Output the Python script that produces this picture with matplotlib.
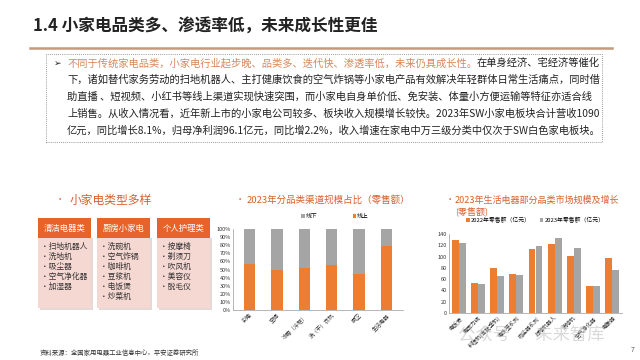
import matplotlib
matplotlib.use('Agg')
import matplotlib.pyplot as plt
import numpy as np
from matplotlib.patches import Rectangle

plt.rcParams['font.family'] = ['Noto Sans CJK SC', 'DejaVu Sans']

# ---- data ----
title = '1.4 小家电品类多、渗透率低，未来成长性更佳'
para_hl = '不同于传统家电品类，小家电行业起步晚、品类多、迭代快、渗透率低，未来仍具成长性。'
para_lines = [
    '在单身经济、宅经济等催化',
    '下，诸如替代家务劳动的扫地机器人、主打健康饮食的空气炸锅等小家电产品有效解决年轻群体日常生活痛点，同时借',
    '助直播 、短视频、小红书等线上渠道实现快速突围，而小家电自身单价低、免安装、体量小方便运输等特征亦适合线',
    '上销售。从收入情况看，近年新上市的小家电公司较多、板块收入规模增长较快。2023年SW小家电板块合计营收1090',
    '亿元，同比增长8.1%，归母净利润96.1亿元，同比增2.2%，收入增速在家电中万三级分类中仅次于SW白色家电板块。',
]

box_heads = ['清洁电器类', '厨房小家电', '个人护理类']
box_items = [
    ['扫地机器人', '洗地机', '吸尘器', '空气净化器', '加湿器'],
    ['洗碗机', '空气炸锅', '咖啡机', '豆浆机', '电饭煲', '炒菜机'],
    ['按摩椅', '剃须刀', '吹风机', '美容仪', '脱毛仪'],
]

ch_cats = ['彩电', '空调', '冰箱（冷柜）', '洗（干）衣机', '厨卫', '生活电器']
online = [57, 50, 52, 55, 45, 79]
offline = [100 - v for v in online]

lf_cats = ['电饭煲', '电压力锅', '料理机(含破壁机)', '电水壶系列', '吸尘器系列',
           '扫地机器人', '洗地机', '空气净化器', '电暖器']
sales22 = [129, 53, 79, 70, 114, 122, 101, 48, 97]
sales23 = [124, 51, 65, 67, 119, 133, 115, 47, 77]

ORANGE = '#ED7D31'
GRAY = '#A5A5A5'
HEAD = '#E8632B'
TITLE_OR = '#D8602E'

W, H = 640, 360
fig = plt.figure(figsize=(6.4, 3.6), dpi=100)


def fx(px):
    return px / W


def fy(py):
    return 1 - py / H


# ---- title ----
fig.text(fx(33), fy(26), title, fontsize=12, fontweight='bold', color='#222222', va='center')
fig.add_artist(plt.Line2D([fx(30), fx(612)], [fy(48), fy(48)], color='#C49A7A', lw=1.8))

# dotted box
fig.add_artist(Rectangle((fx(46), fy(142)), fx(556), (142 - 54) / H, fill=False,
                         ls=(0, (1, 1.5)), lw=0.6, ec='#777777'))
fig.text(fx(54), fy(63), '➢', fontsize=6.5, color='#222222', va='center', family=['DejaVu Sans'])

fig.canvas.draw()
r = fig.canvas.get_renderer()
t0 = fig.text(fx(67), fy(63), para_hl, fontsize=7.4, color='#D9875A', va='center')
bb = t0.get_window_extent(renderer=r)
fig.text(bb.x1 / W, fy(63), para_lines[0], fontsize=7.4, color='#222222', va='center')
for i, line in enumerate(para_lines[1:]):
    fig.text(fx(67), fy(80 + 17 * i), line, fontsize=7.4, color='#222222', va='center')

# ---- left panel ----
fig.text(fx(56), fy(200), '•', fontsize=6, color=TITLE_OR, va='center')
fig.text(fx(70), fy(200), '小家电类型多样', fontsize=8.5, color=TITLE_OR, va='center')
box_x = [38, 97, 157]
bw = 53
for i, x0 in enumerate(box_x):
    fig.add_artist(Rectangle((fx(x0 + 1.5), fy(310)), fx(bw), (310 - 238) / H,
                             fc='#E5D9D7', ec='none'))
    fig.add_artist(Rectangle((fx(x0), fy(308)), fx(bw), (308 - 238) / H,
                             fc='#F6D8D2', ec='none'))
    fig.add_artist(Rectangle((fx(x0), fy(238)), fx(bw), 20 / H, fc=HEAD, ec='none'))
    fig.text(fx(x0 + bw / 2), fy(228), box_heads[i], fontsize=6, color='white',
             ha='center', va='center')
    for j, it in enumerate(box_items[i]):
        fig.text(fx(x0 + 3), fy(247 + 10 * j), '•' + it, fontsize=5.6,
                 color='#333333', va='center')

fig.text(fx(40), fy(353), '资料来源：全国家用电器工业信息中心，平安证券研究所', fontsize=4.6,
         color='#333333', va='center')

# ---- middle chart ----
fig.text(fx(236), fy(200), '•', fontsize=6, color=TITLE_OR, va='center')
fig.text(fx(247), fy(200), '2023年分品类渠道规模占比（零售额）', fontsize=6.8,
         color=TITLE_OR, va='center')
ax1 = fig.add_axes([fx(233), fy(310), fx(170), (310 - 229) / H])
xm = np.arange(len(ch_cats))
ax1.bar(xm, online, width=0.42, color=ORANGE, label='线上')
ax1.bar(xm, offline, width=0.42, bottom=online, color=GRAY, label='线下')
ax1.set_ylim(0, 100)
ax1.set_xlim(-0.6, len(ch_cats) - 0.4)
ax1.set_yticks(np.arange(0, 101, 10))
ax1.set_yticklabels([f'{v}%' for v in range(0, 101, 10)])
ax1.set_xticks(xm)
ax1.set_xticklabels(ch_cats, rotation=45, ha='right', rotation_mode='anchor')
ax1.tick_params(labelsize=4, length=0, pad=1.5, colors='#333333')
for s in ['top', 'right']:
    ax1.spines[s].set_visible(False)
for s in ['left', 'bottom']:
    ax1.spines[s].set_color('#999999')
    ax1.spines[s].set_linewidth(0.5)
h, l = ax1.get_legend_handles_labels()
ax1.legend(h[::-1], l[::-1], loc='lower center', bbox_to_anchor=(0.6, 1.06), ncol=2,
           fontsize=4.2, frameon=False, handlelength=0.6, handleheight=0.6,
           columnspacing=6, handletextpad=0.2)

# ---- right chart ----
fig.text(fx(446), fy(200), '•', fontsize=6, color=TITLE_OR, va='center')
fig.text(fx(455), fy(200), '2023年生活电器部分品类市场规模及增长', fontsize=6.5,
         color=TITLE_OR, va='center')
fig.text(fx(455), fy(212), '(零售额)', fontsize=6.5, color=TITLE_OR, va='center')
ax2 = fig.add_axes([fx(449), fy(313), fx(173), (313 - 234) / H])
xr = np.arange(len(lf_cats))
bw2 = 0.36
ax2.bar(xr - bw2 / 2, sales22, width=bw2, color=ORANGE, label='2022年零售额（亿元）')
ax2.bar(xr + bw2 / 2, sales23, width=bw2, color=GRAY, label='2023年零售额（亿元）')
ax2.set_ylim(0, 140)
ax2.set_xlim(-0.5, len(lf_cats) - 0.5)
ax2.set_yticks(np.arange(0, 141, 20))
ax2.set_xticks(xr)
ax2.set_xticklabels(lf_cats, rotation=45, ha='right', rotation_mode='anchor')
ax2.tick_params(labelsize=4, length=0, pad=1.5, colors='#333333')
for s in ['top', 'right']:
    ax2.spines[s].set_visible(False)
for s in ['left', 'bottom']:
    ax2.spines[s].set_color('#999999')
    ax2.spines[s].set_linewidth(0.5)
ax2.legend(loc='lower center', bbox_to_anchor=(0.5, 1.07), ncol=2, fontsize=4.2,
           frameon=False, handlelength=0.6, handleheight=0.6, columnspacing=1.5,
           handletextpad=0.2)

# watermark + page number
fig.text(fx(458), fy(334), '公众号 · 未来智库', fontsize=12.5, color='#BBBBBB', alpha=0.55,
         va='center')
fig.text(fx(631), fy(350), '7', fontsize=5, color='#555555', va='center')

fig.savefig('out.png', dpi=100)
